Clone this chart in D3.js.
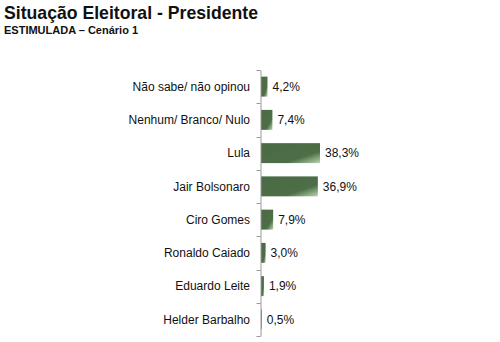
<!DOCTYPE html>
<html><head><meta charset="utf-8">
<script src="https://cdn.jsdelivr.net/npm/d3@7"></script>
<style>body{margin:0;background:#fff;}svg{display:block;font-family:"Liberation Sans",Arial,sans-serif;}</style>
</head><body>
<svg id="chart" width="500" height="342"></svg>
<script>
const categories = ["Não sabe/ não opinou","Nenhum/ Branco/ Nulo","Lula","Jair Bolsonaro","Ciro Gomes","Ronaldo Caiado","Eduardo Leite","Helder Barbalho"];
const values = [4.2, 7.4, 38.3, 36.9, 7.9, 3.0, 1.9, 0.5];
const valueLabels = ["4,2%","7,4%","38,3%","36,9%","7,9%","3,0%","1,9%","0,5%"];
const title = "Situação Eleitoral - Presidente";
const subtitle = "ESTIMULADA – Cenário 1";

const svg = d3.select("#chart");
const axisX = 260.5;
const x = d3.scaleLinear().domain([0, 38.3]).range([axisX + 0.5, 320]);
const y = d3.scaleBand().domain(categories).range([70, 336]).paddingInner(0.4).paddingOuter(0.2);

const defs = svg.append("defs");
const grad = defs.append("linearGradient").attr("id","barGrad")
  .attr("x1","0").attr("y1","0").attr("x2","1").attr("y2","1");
grad.append("stop").attr("offset","0%").attr("stop-color","#4a6a43");
grad.append("stop").attr("offset","70%").attr("stop-color","#4d6e46");
grad.append("stop").attr("offset","100%").attr("stop-color","#b8d6b0");

svg.append("text").attr("x",4).attr("y",18.5).attr("font-size",19).attr("font-weight","bold").attr("fill","#111")
  .attr("textLength",254).attr("lengthAdjust","spacingAndGlyphs").text(title);
svg.append("text").attr("x",4).attr("y",34).attr("font-size",11).attr("font-weight","bold").attr("fill","#111").text(subtitle);

// bars
svg.selectAll("rect.bar").data(values).join("rect").attr("class","bar")
  .attr("x", x(0)).attr("y",(d,i)=>y(categories[i]))
  .attr("width", d=>x(d)-x(0)).attr("height", y.bandwidth())
  .attr("fill","url(#barGrad)");

// axis
const axis = d3.axisLeft(y).tickSize(0).tickFormat("");
const g = svg.append("g").attr("transform",`translate(${axisX},0)`).call(axis);
g.select(".domain").attr("stroke","#999");
// boundary ticks
const step = y.step();
const bounds = d3.range(categories.length + 1).map(i => 70 + i*step);
g.selectAll("line.bt").data(bounds).join("line").attr("class","bt")
  .attr("x1",-4).attr("x2",0).attr("y1",d=>Math.round(d)+0.5).attr("y2",d=>Math.round(d)+0.5).attr("stroke","#999");

// category labels
svg.selectAll("text.cat").data(categories).join("text").attr("class","cat")
  .attr("x",250).attr("y",d=>y(d)+y.bandwidth()/2).attr("dy","0.35em")
  .attr("text-anchor","end").attr("font-size",12).attr("fill","#111").text(d=>d);

// value labels
svg.selectAll("text.val").data(values).join("text").attr("class","val")
  .attr("x",d=>x(d)+5).attr("y",(d,i)=>y(categories[i])+y.bandwidth()/2).attr("dy","0.35em")
  .attr("font-size",12).attr("fill","#111").text((d,i)=>valueLabels[i]);
</script>
</body></html>
